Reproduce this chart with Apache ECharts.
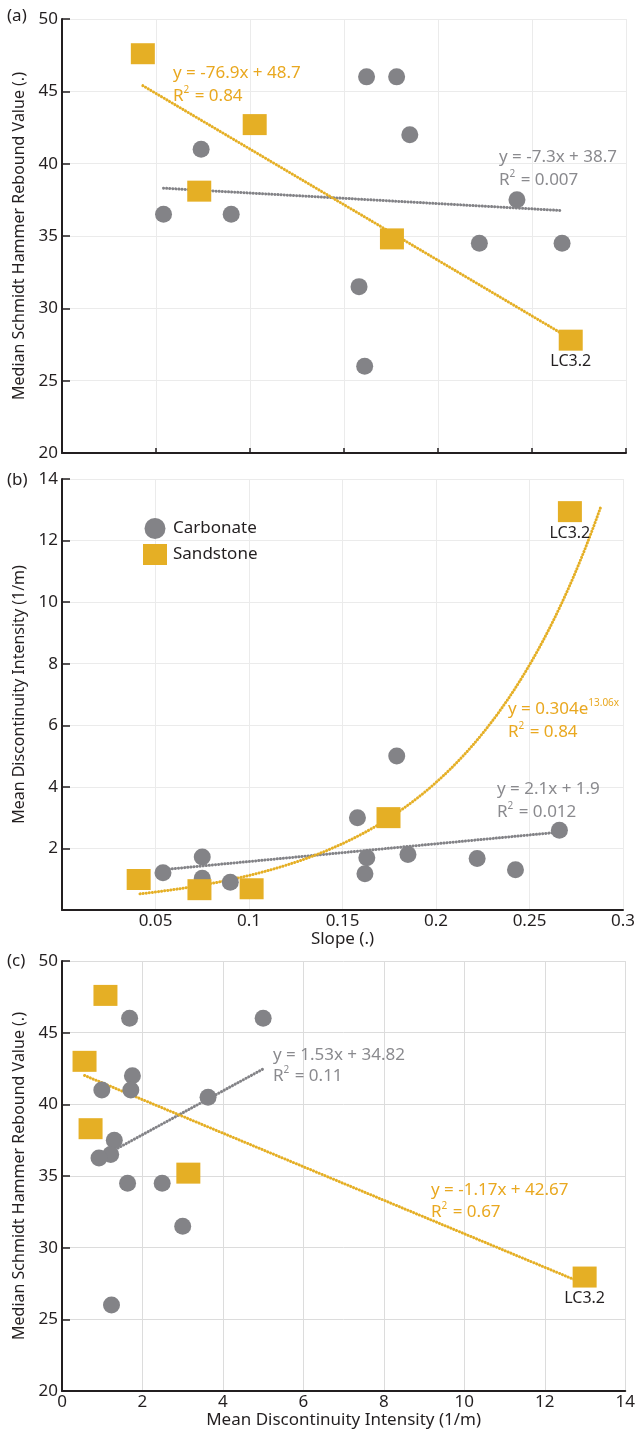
<!DOCTYPE html>
<html>
<head>
<meta charset="utf-8">
<script src="https://cdn.jsdelivr.net/npm/echarts@6/dist/echarts.min.js"></script>
<style>
  html, body { margin: 0; padding: 0; background: #ffffff; }
  #chart { width: 638px; height: 1435px; }
</style>
</head>
<body>
<div id="chart"></div>
<script>
// (a) Slope vs median Schmidt hammer rebound value
const carbSlopeA   = [0.054, 0.074, 0.090, 0.158, 0.161, 0.162, 0.178, 0.185, 0.222, 0.242, 0.266];
const carbReboundA = [36.5, 41.0, 36.5, 31.5, 26.0, 46.0, 46.0, 42.0, 34.5, 37.5, 34.5];
const sandSlopeA   = [0.043, 0.073, 0.1025, 0.1755, 0.2706];
const sandReboundA = [47.6, 38.1, 42.7, 34.8, 27.8];
const sandNamesA   = ['', '', '', '', 'LC3.2'];

// (b) Slope vs mean discontinuity intensity
const carbSlopeB     = [0.054, 0.075, 0.075, 0.090, 0.158, 0.163, 0.162, 0.179, 0.185, 0.222, 0.2425, 0.266];
const carbIntensityB = [1.21, 1.72, 1.03, 0.90, 3.00, 1.70, 1.18, 5.00, 1.80, 1.67, 1.31, 2.59];
const sandSlopeB     = [0.041, 0.0735, 0.1014, 0.1746, 0.2716];
const sandIntensityB = [0.99, 0.66, 0.69, 3.00, 12.94];
const sandNamesB     = ['', '', '', '', 'LC3.2'];

// (c) Mean discontinuity intensity vs median Schmidt hammer rebound value
const carbIntensityC = [1.68, 5.00, 1.75, 0.99, 1.71, 3.63, 1.30, 1.21, 0.92, 1.63, 2.49, 3.00, 1.23];
const carbReboundC   = [46.0, 46.0, 42.0, 41.0, 41.0, 40.5, 37.5, 36.5, 36.25, 34.5, 34.5, 31.5, 26.0];
const sandIntensityC = [1.08, 0.56, 0.71, 3.14, 12.99];
const sandReboundC   = [47.6, 43.0, 38.3, 35.2, 27.95];
const sandNamesC     = ['', '', '', '', 'LC3.2'];

// Trend lines: [slope, intercept] over [xStart, xEnd]
const fitCarbA = [-7.3, 38.7];   const fitCarbARange = [0.054, 0.266];
const fitSandA = [-76.9, 48.7];  const fitSandARange = [0.043, 0.2706];
const lineCarbBx = [0.054, 0.266]; const lineCarbBy = [1.31, 2.53];
const fitSandBExp = [0.304, 13.06]; const fitSandBRange = [0.0417, 0.2883];
const fitCarbC = [1.53, 34.82];  const fitCarbCRange = [0.92, 5.0];
const fitSandC = [-1.17, 42.67]; const fitSandCRange = [0.56, 12.99];

// Tick labels
const reboundTicks    = ['20', '25', '30', '35', '40', '45', '50'];
const slopeTicks      = ['', '0.05', '0.1', '0.15', '0.2', '0.25', '0.3'];
const intensityTicksB = ['', '2', '4', '6', '8', '10', '12', '14'];
const intensityTicksC = ['0', '2', '4', '6', '8', '10', '12', '14'];

const GRAY = '#838387';
const ORANGE = '#E5AF25';
const ORANGE_TEXT = '#E9A820';
const GRAY_TEXT = '#8a8a8e';
const INK = '#231f20';
const FONT = '"Noto Sans", "Open Sans", sans-serif';

const pairs = (xs, ys) => xs.map((x, i) => [x, ys[i]]);
const named = (xs, ys, names) => xs.map((x, i) => ({ value: [x, ys[i]], name: names[i] }));
const linear = (fit, range) => range.map(x => [x, fit[0] * x + fit[1]]);
const expCurve = (fit, range, n) => {
  const pts = [];
  for (let i = 0; i <= n; i++) {
    const x = range[0] + (range[1] - range[0]) * i / n;
    pts.push([x, fit[0] * Math.exp(fit[1] * x)]);
  }
  return pts;
};

const chart = echarts.init(document.getElementById('chart'), null, { renderer: 'canvas' });

const grids = [
  { left: 62, top: 19,  width: 564, height: 434 },
  { left: 62, top: 479, width: 564, height: 431 },
  { left: 62, top: 961, width: 564, height: 430 }
];

function xAxisCfg(gridIndex, min, max, interval, labels, extra) {
  return Object.assign({
    type: 'value', gridIndex, min, max, interval,
    axisLine: { show: true, onZero: false, lineStyle: { color: INK, width: 2 } },
    axisTick: { show: false },
    axisLabel: {
      show: !!labels, color: INK, fontFamily: FONT, fontSize: 17, margin: 3,
      formatter: (v, i) => (labels && labels[i] !== undefined ? labels[i] : '')
    },
    splitLine: { show: true, lineStyle: { color: gridIndex === 2 ? '#dcdcdc' : '#ebebeb', width: 1 } },
    nameLocation: 'middle',
    nameTextStyle: { color: INK, fontFamily: FONT, fontSize: 17 }
  }, extra || {});
}

function yAxisCfg(gridIndex, min, max, interval, labels, name) {
  return {
    type: 'value', gridIndex, min, max, interval,
    name, nameLocation: 'middle', nameGap: 26,
    nameTextStyle: { color: INK, fontFamily: FONT, fontSize: 16 },
    axisLine: { show: true, onZero: false, lineStyle: { color: INK, width: 2 } },
    axisTick: { show: true, inside: true, length: 8, lineStyle: { color: INK, width: 1.5 } },
    axisLabel: {
      color: INK, fontFamily: FONT, fontSize: 17, margin: 4,
      formatter: (v, i) => (labels[i] !== undefined ? labels[i] : '')
    },
    splitLine: { show: true, lineStyle: { color: gridIndex === 2 ? '#dcdcdc' : '#ebebeb', width: 1 } }
  };
}

const xAxes = [
  xAxisCfg(0, 0, 0.3, 0.05, null, {
    axisTick: { show: true, inside: true, length: 5, lineStyle: { color: INK, width: 1.5 } }
  }),
  xAxisCfg(1, 0, 0.3, 0.05, slopeTicks, { name: 'Slope (.)', nameGap: 20 }),
  xAxisCfg(2, 0, 14, 2, intensityTicksC, { name: 'Mean Discontinuity Intensity (1/m)', nameGap: 21 })
];

const yAxes = [
  yAxisCfg(0, 20, 50, 5, reboundTicks, 'Median Schmidt Hammer Rebound Value (.)'),
  yAxisCfg(1, 0, 14, 2, intensityTicksB, 'Mean Discontinuity Intensity (1/m)'),
  yAxisCfg(2, 20, 50, 5, reboundTicks, 'Median Schmidt Hammer Rebound Value (.)')
];

function carbSeries(idx, data) {
  return {
    name: 'Carbonate', type: 'scatter', xAxisIndex: idx, yAxisIndex: idx,
    symbol: 'circle', symbolSize: 17, z: 5, silent: true,
    itemStyle: { color: GRAY, opacity: 1 },
    data
  };
}
function sandSeries(idx, data) {
  return {
    name: 'Sandstone', type: 'scatter', xAxisIndex: idx, yAxisIndex: idx,
    symbol: 'rect', symbolSize: [24, 21], z: 6, silent: true,
    itemStyle: { color: ORANGE, opacity: 1 },
    label: {
      show: true, position: 'bottom', distance: 3, formatter: '{b}',
      color: INK, fontFamily: FONT, fontSize: 16
    },
    data
  };
}
function trendSeries(idx, data, color) {
  return {
    type: 'line', xAxisIndex: idx, yAxisIndex: idx, data,
    symbol: 'none', silent: true, z: 3, smooth: false,
    lineStyle: { color, width: 3, type: [0.1, 3], cap: 'round' }
  };
}

const series = [
  trendSeries(0, linear(fitCarbA, fitCarbARange), GRAY),
  trendSeries(0, linear(fitSandA, fitSandARange), ORANGE),
  carbSeries(0, pairs(carbSlopeA, carbReboundA)),
  sandSeries(0, named(sandSlopeA, sandReboundA, sandNamesA)),

  trendSeries(1, pairs(lineCarbBx, lineCarbBy), GRAY),
  trendSeries(1, expCurve(fitSandBExp, fitSandBRange, 80), ORANGE),
  carbSeries(1, pairs(carbSlopeB, carbIntensityB)),
  sandSeries(1, named(sandSlopeB, sandIntensityB, sandNamesB)),

  trendSeries(2, linear(fitCarbC, fitCarbCRange), GRAY),
  trendSeries(2, linear(fitSandC, fitSandCRange), ORANGE),
  carbSeries(2, pairs(carbIntensityC, carbReboundC)),
  sandSeries(2, named(sandIntensityC, sandReboundC, sandNamesC))
];

// Equation and panel annotations
function note(x, y, text, color, size) {
  return {
    type: 'text', x, y, silent: true, z: 20,
    style: {
      text, fill: color, font: `${size || 17}px ${FONT}`, lineHeight: 22,
      align: 'left', verticalAlign: 'middle',
      rich: {
        sup: { fontSize: 10, fontFamily: FONT, verticalAlign: 'top', lineHeight: 22, padding: [0, 1, 0, 0], fill: color }
      }
    }
  };
}

const graphic = [
  note(7, 16, '(a)', INK, 17),
  note(7, 480, '(b)', INK, 17),
  note(7, 961, '(c)', INK, 17),

  note(173, 73, 'y = -76.9x + 48.7', ORANGE_TEXT),
  note(173, 96, 'R{sup|2} = 0.84', ORANGE_TEXT),
  note(499, 157, 'y = -7.3x + 38.7', GRAY_TEXT),
  note(499, 180, 'R{sup|2} = 0.007', GRAY_TEXT),

  note(508, 709, 'y = 0.304e{sup|13.06x}', ORANGE_TEXT),
  note(508, 732, 'R{sup|2} = 0.84', ORANGE_TEXT),
  note(497, 789, 'y = 2.1x + 1.9', GRAY_TEXT),
  note(497, 812, 'R{sup|2} = 0.012', GRAY_TEXT),

  note(273, 1055, 'y = 1.53x + 34.82', GRAY_TEXT),
  note(273, 1076, 'R{sup|2} = 0.11', GRAY_TEXT),
  note(431, 1190, 'y = -1.17x + 42.67', ORANGE_TEXT),
  note(431, 1212, 'R{sup|2} = 0.67', ORANGE_TEXT)
];

chart.setOption({
  backgroundColor: '#ffffff',
  animation: false,
  textStyle: { fontFamily: FONT },
  grid: grids,
  xAxis: xAxes,
  yAxis: yAxes,
  legend: {
    orient: 'vertical', left: 138, top: 513,
    itemWidth: 24, itemHeight: 21, itemGap: 5,
    selectedMode: false,
    textStyle: { color: INK, fontFamily: FONT, fontSize: 17, padding: [0, 0, 0, 1] },
    data: [
      { name: 'Carbonate', icon: 'circle' },
      { name: 'Sandstone', icon: 'rect' }
    ]
  },
  series,
  graphic
});
</script>
</body>
</html>
